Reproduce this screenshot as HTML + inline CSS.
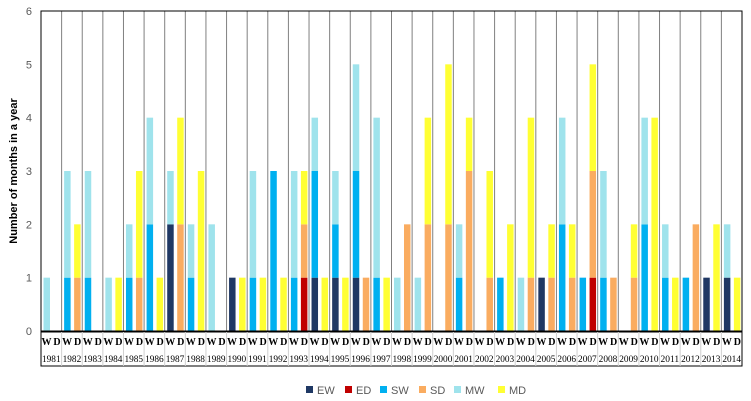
<!DOCTYPE html>
<html><head><meta charset="utf-8"><style>
body{margin:0;background:#fff;}
svg{display:block;}
</style></head><body>
<svg id="chart" width="751" height="401" xmlns="http://www.w3.org/2000/svg"></svg>
<script>
const years=[1981,1982,1983,1984,1985,1986,1987,1988,1989,1990,1991,1992,1993,1994,1995,1996,1997,1998,1999,2000,2001,2002,2003,2004,2005,2006,2007,2008,2009,2010,2011,2012,2013,2014];
const EW=[0,0,0,0,0,0,2,0,0,1,0,0,0,1,1,1,0,0,0,0,0,0,0,0,1,0,0,0,0,0,0,0,1,1];
const SW=[0,1,1,0,1,2,0,1,0,0,1,3,1,2,1,2,1,0,0,0,1,0,1,0,0,2,1,1,0,2,1,1,0,0];
const MW=[1,2,2,1,1,2,1,1,2,0,2,0,2,1,1,2,3,1,1,0,1,0,0,1,0,2,0,2,0,2,1,0,0,1];
const ED=[0,0,0,0,0,0,0,0,0,0,0,0,1,0,0,0,0,0,0,0,0,0,0,0,0,0,1,0,0,0,0,0,0,0];
const SD=[0,1,0,0,1,0,2,0,0,0,0,0,1,0,0,1,0,2,2,2,3,1,0,1,1,1,2,1,1,0,0,2,0,0];
const MD=[0,1,0,1,2,1,2,3,0,1,1,1,1,1,1,0,1,0,2,3,1,2,2,3,1,1,2,0,1,4,1,0,2,1];
const yTicks=[0,1,2,3,4,5,6];
const C={EW:'#1F3864',ED:'#C00000',SW:'#00B0F0',SD:'#FAAC60',MW:'#9FE3EC',MD:'#FFFF33'};
const L=41,R=742,T=11,B=331;
const yw=(R-L)/years.length;
const ys=v=>B-(v/6)*(B-T);
const svg=document.getElementById('chart');
const NS='http://www.w3.org/2000/svg';
function mk(tag,at,txt){const e=document.createElementNS(NS,tag);for(const k in at)e.setAttribute(k,at[k]);if(txt!==undefined)e.textContent=txt;svg.appendChild(e);return e;}
for(let i=1;i<years.length;i++){
  const g=mk('line',{x1:L+i*yw,x2:L+i*yw,y1:T,y2:B,stroke:'#808080','stroke-width':1});
  
  
}
function stack(x,vals,keys,name){
  let base=0;
  vals.forEach((v,k)=>{ if(v>0){
    const r=mk('rect',{x:x,y:ys(base+v),width:6.5,height:ys(base)-ys(base+v),fill:C[keys[k]]});
    
    
    base+=v;}});
}
years.forEach((y,i)=>{
  const x0=L+i*yw;
  stack(x0+2.5,[EW[i],SW[i],MW[i]],['EW','SW','MW'],'bar-w-'+y);
  stack(x0+12.5,[ED[i],SD[i],MD[i]],['ED','SD','MD'],'bar-d-'+y);
});
const fr=mk('rect',{x:L,y:T,width:R-L,height:B-T,fill:'none',stroke:'#000','stroke-width':1});


yTicks.forEach(t=>{
  const tx=mk('text',{x:32,y:ys(t)+4,'text-anchor':'end','font-family':'Liberation Sans, sans-serif','font-size':11,fill:'#595959'},t);
  
  
});
const yt=mk('text',{x:0,y:0,transform:'translate(17,171) rotate(-90)','text-anchor':'middle','font-family':'Liberation Sans, sans-serif','font-size':11,'font-weight':'bold',fill:'#000'},'Number of months in a year');


const tb=mk('rect',{x:L,y:B+1,width:R-L,height:34,fill:'none',stroke:'#000','stroke-width':1});


years.forEach((y,i)=>{
  const x0=L+i*yw;
  if(i>0){const d=mk('line',{x1:x0,x2:x0,y1:B+1,y2:B+35,stroke:'#d0d0d0'});
    
    }
  const w=mk('text',{x:x0+5.5,y:B+14,'text-anchor':'middle','font-family':'Liberation Serif, serif','font-size':10,'font-weight':'bold'},'W');
  
  
  const d2=mk('text',{x:x0+16,y:B+14,'text-anchor':'middle','font-family':'Liberation Serif, serif','font-size':10,'font-weight':'bold'},'D');
  
  
  const yl=mk('text',{x:x0+yw/2,y:B+31,'text-anchor':'middle','font-family':'Liberation Serif, serif','font-size':9,textLength:yw-2,lengthAdjust:'spacingAndGlyphs'},y);
  
  
});
const legendKeys=['EW','ED','SW','SD','MW','MD'];
const legX=[306,345,380,419,454,498];
legendKeys.forEach((k,i)=>{
  const r=mk('rect',{x:legX[i],y:386,width:7,height:7,fill:C[k]});
  
  
  const t=mk('text',{x:legX[i]+11,y:394,'font-family':'Liberation Sans, sans-serif','font-size':11,fill:'#595959'},k);
  
  
});
</script>
</body></html>
